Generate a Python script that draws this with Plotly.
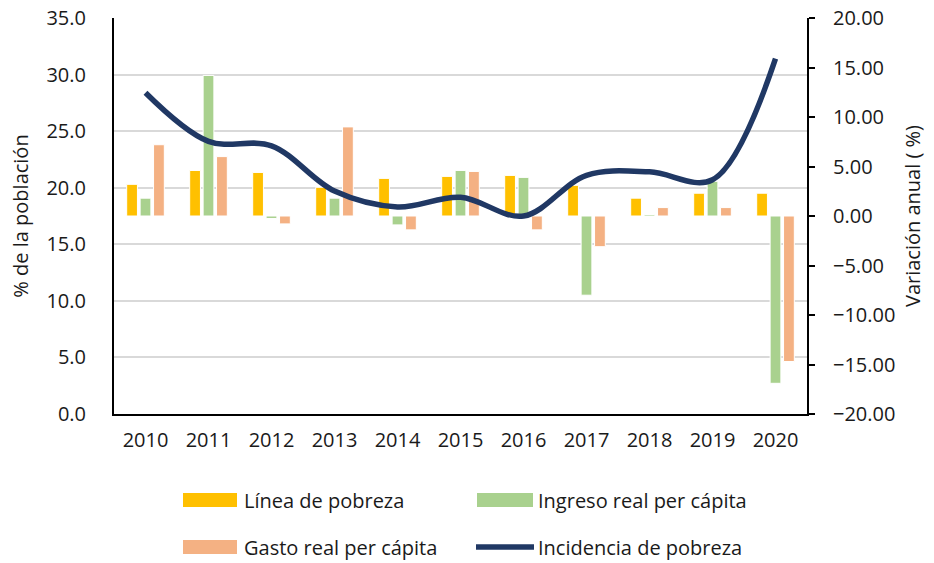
import plotly.graph_objects as go

# Data
years = ["2010", "2011", "2012", "2013", "2014", "2015", "2016", "2017", "2018", "2019", "2020"]
linea_pobreza = [3.2, 4.6, 4.4, 2.9, 3.8, 4.0, 4.1, 3.1, 1.8, 2.3, 2.3]
ingreso_real = [1.8, 14.2, -0.25, 1.8, -0.9, 4.6, 3.9, -8.0, 0.15, 3.5, -16.9]
gasto_real = [7.2, 6.0, -0.8, 9.0, -1.4, 4.5, -1.4, -3.1, 0.85, 0.85, -14.7]
incidencia = [28.4, 24.1, 23.7, 19.7, 18.3, 19.15, 17.5, 21.1, 21.4, 20.7, 31.4]

names = ["Línea de pobreza", "Ingreso real per cápita", "Gasto real per cápita", "Incidencia de pobreza"]
colors = ["#FFC000", "#A9D18E", "#F4B183", "#203864"]

left_range = [0, 35]
right_range = [-20, 20]
left_ticks = [0, 5, 10, 15, 20, 25, 30, 35]

FONT = "Open Sans"
TXT = "#1a1a1a"
FS = 20

# plot area in pixels
W, H = 934, 563
L, R, T, B = 114, 807, 18, 414

fig = go.Figure()

for vals, name, col in zip([linea_pobreza, ingreso_real, gasto_real], names[:3], colors[:3]):
    fig.add_trace(go.Bar(
        x=years, y=vals, name=name, yaxis="y",
        marker=dict(color=col, line=dict(color="white", width=1)),
        showlegend=False,
    ))

fig.add_trace(go.Scatter(
    x=years, y=incidencia, name=names[3], yaxis="y2", mode="lines",
    line=dict(color=colors[3], width=5.5, shape="spline", smoothing=1.0),
    showlegend=False,
))

# horizontal grid follows the left scale; drawn on the bar axis so it stays behind bars
def left_to_right(v):
    return right_range[0] + (v - left_range[0]) * (right_range[1] - right_range[0]) / (left_range[1] - left_range[0])

grid_vals = [left_to_right(v) for v in left_ticks[1:]]

# custom legend (wide swatches), positions in pixels converted to paper coords
def px(x):
    return (x - L) / (R - L)

def py(y):
    return (B - y) / (B - T)

shapes = []
annotations = []
legend_items = [
    (names[0], colors[0], 183, 237, 242, 500, "bar"),
    (names[1], colors[1], 477, 533, 536, 500, "bar"),
    (names[2], colors[2], 183, 237, 242, 547, "bar"),
    (names[3], colors[3], 476, 534, 536, 547, "line"),
]
for name, col, sx0, sx1, tx, cy, kind in legend_items:
    if kind == "bar":
        shapes.append(dict(type="rect", xref="paper", yref="paper",
                           x0=px(sx0), x1=px(sx1), y0=py(cy + 7), y1=py(cy - 7),
                           fillcolor=col, line=dict(width=0)))
    else:
        shapes.append(dict(type="line", xref="paper", yref="paper",
                           x0=px(sx0), x1=px(sx1), y0=py(cy), y1=py(cy),
                           line=dict(color=col, width=5.5)))
    annotations.append(dict(text=name, xref="paper", yref="paper", x=px(tx), y=py(cy),
                            xanchor="left", yanchor="middle", showarrow=False,
                            font=dict(family=FONT, size=FS, color=TXT)))

fig.update_layout(
    width=W, height=H,
    margin=dict(l=L, r=W - R, t=T, b=H - B),
    paper_bgcolor="white", plot_bgcolor="white",
    barmode="group", bargap=0.36, bargroupgap=0.2,
    font=dict(family=FONT, size=FS, color=TXT),
    showlegend=False,
    xaxis=dict(
        type="category", showline=True, linecolor="black", linewidth=2,
        ticks="", showgrid=False, tickfont=dict(size=FS, color=TXT),
        ticklabelstandoff=7, zeroline=False, automargin=False,
    ),
    yaxis=dict(
        side="right", range=right_range, dtick=5, tickformat=".2f",
        showline=True, linecolor="black", linewidth=2,
        ticks="outside", ticklen=6, tickwidth=2, tickcolor="black",
        ticklabelstandoff=14, automargin=False,
        showgrid=False, zeroline=False,
        minor=dict(tickvals=grid_vals, showgrid=True, gridcolor="#D9D9D9", gridwidth=2, ticks=""),
        title=dict(text="Variación anual ( %)", font=dict(size=FS, color=TXT), standoff=12),
        tickfont=dict(size=FS, color=TXT),
    ),
    yaxis2=dict(
        overlaying="y", side="left", range=left_range, tickvals=left_ticks, tickformat=".1f",
        showline=True, linecolor="black", linewidth=2, ticks="",
        ticklabelstandoff=22, automargin=False,
        showgrid=False, zeroline=False,
        title=dict(text="% de la población", font=dict(size=FS, color=TXT), standoff=12),
        tickfont=dict(size=FS, color=TXT),
    ),
    shapes=shapes,
    annotations=annotations,
)

fig.write_html("out.html")
